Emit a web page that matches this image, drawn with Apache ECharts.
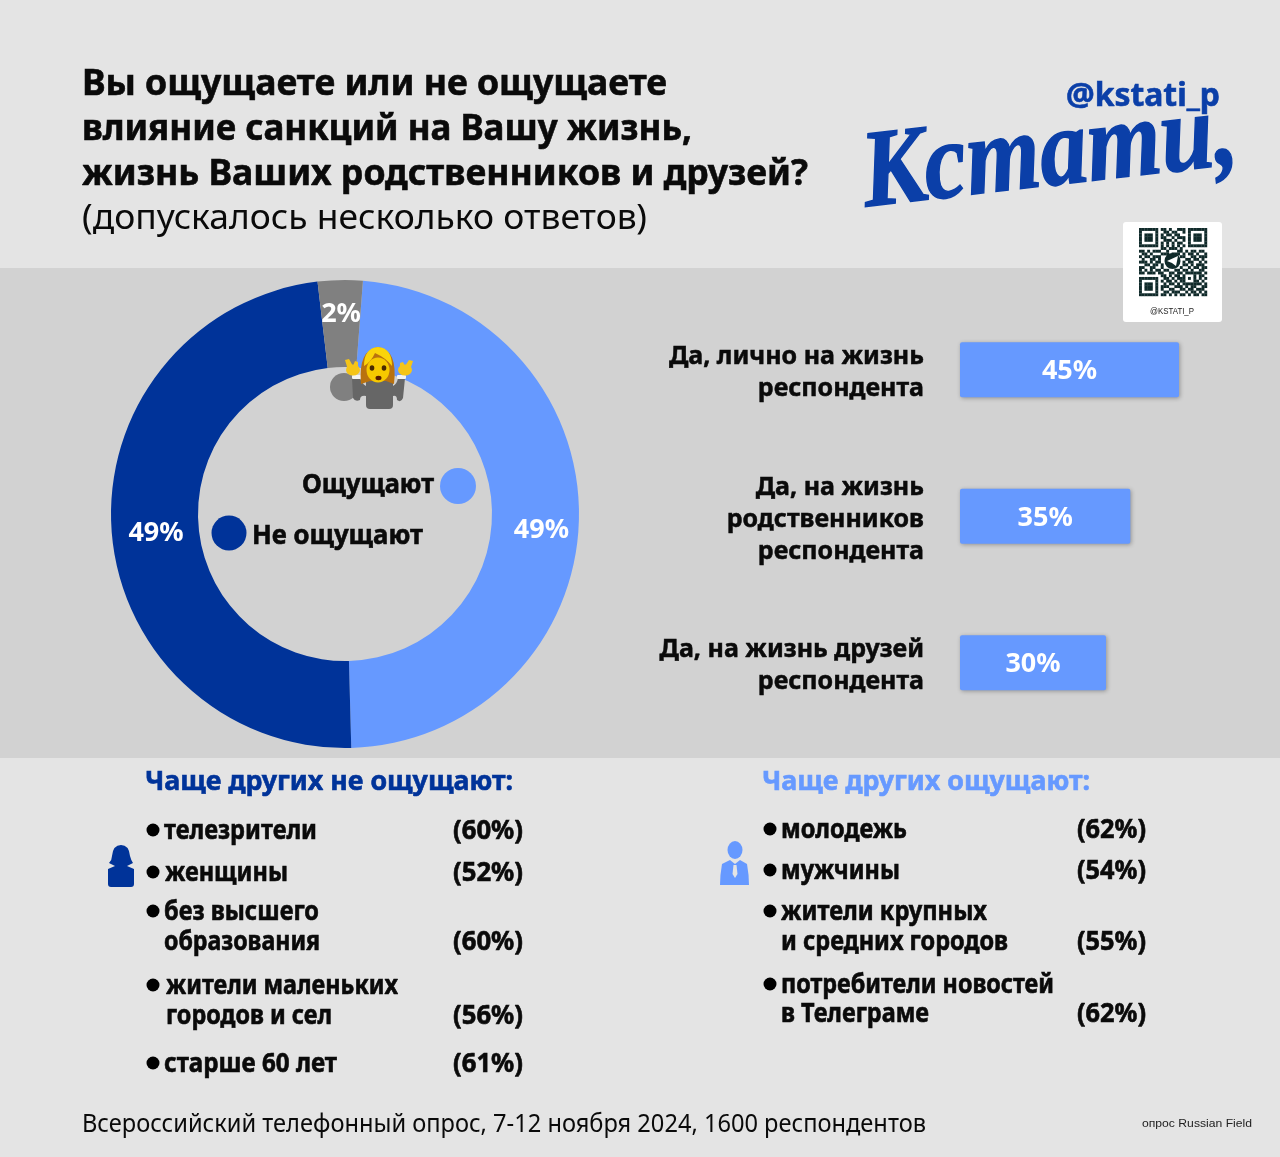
<!DOCTYPE html>
<html>
<head>
<meta charset="utf-8" />
<title>Кстати</title>
<script src="https://cdnjs.cloudflare.com/ajax/libs/echarts/6.0.0/echarts.min.js"></script>
<style>
  html, body { margin: 0; padding: 0; background: #e4e4e4; }
  #chart { width: 1280px; height: 1157px; }
</style>
</head>
<body>
<div id="chart"></div>
<script type="text/javascript">
// donut: printed labels, and slice shares as drawn in the picture
// (the grey slice is drawn wider than its printed 2%)
var donutNames = ['Ощущают', 'Не ощущают', 'Затрудняюсь ответить'];
var donutLabels = ['49%', '49%', '2%'];
var donutShares = [48.4, 48.6, 3.1];

// bars
var barCategories = ['Да, лично на жизнь\nреспондента', 'Да, на жизнь\nродственников\nреспондента', 'Да, на жизнь друзей\nреспондента'];
var barValues = [45, 35, 30];

// bottom lists
var notFeelGroups = ['телезрители', 'женщины', 'без высшего\nобразования', 'жители маленьких\nгородов и сел', 'старше 60 лет'];
var notFeelValues = [60, 52, 60, 56, 61];
var feelGroups = ['молодежь', 'мужчины', 'жители крупных\nи средних городов', 'потребители новостей\nв Телеграме'];
var feelValues = [62, 54, 55, 62];

var titleLines = ['Вы ощущаете или не ощущаете', 'влияние санкций на Вашу жизнь,', 'жизнь Ваших родственников и друзей?'];
var subtitle = '(допускалось несколько ответов)';
var footer = 'Всероссийский телефонный опрос, 7-12 ноября 2024, 1600 респондентов';

var LIGHT = '#6699ff', DARK = '#003399', GREY = '#808080', INK = '#0a0a0a';
var SANS = '"Noto Sans"';

var measureCtx = document.createElement('canvas').getContext('2d');

// text squeezed to the width it has in the picture (x0..x1), y is the middle of the line
function fitText(text, x0, x1, y, size, weight, color, family) {
    var font = weight + ' ' + size + 'px ' + (family || SANS);
    measureCtx.font = font;
    var style = { text: text, font: font, fill: color, textAlign: 'left', textVerticalAlign: 'middle' };
    if (weight === 'bold') {
        // the original face is heavier than Noto Sans Bold
        style.stroke = color;
        style.lineWidth = 0.6;
    }
    return {
        type: 'text', x: x0, y: y + 1.5, scaleX: (x1 - x0) / measureCtx.measureText(text).width, z: 10, silent: true,
        style: style
    };
}
function dot(x, y, r, color) {
    return { type: 'circle', shape: { cx: x, cy: y, r: r }, style: { fill: color }, z: 10, silent: true };
}
function box(x, y, w, h, color, r, z) {
    return { type: 'rect', shape: { x: x, y: y, width: w, height: h, r: r || 0 }, style: { fill: color }, z: z === undefined ? 10 : z, silent: true };
}
// graphic has no plain path type, so every svg path gets its own registered shape
var pathCount = 0;
function path(d, color, z) {
    var name = 'iconPath' + (pathCount++);
    echarts.graphic.registerShape(name, echarts.graphic.extendPath(d));
    return { type: name, shape: {}, style: { fill: color }, z: z || 10, silent: true };
}
function oval(cx, cy, rx, ry, color) {
    var d = 'M' + (cx - rx) + ' ' + cy + ' A' + rx + ' ' + ry + ' 0 1 1 ' + (cx + rx) + ' ' + cy +
        ' A' + rx + ' ' + ry + ' 0 1 1 ' + (cx - rx) + ' ' + cy + ' Z';
    return path(d, color);
}

// one bottom column, text ends and line heights as they are in the picture
function listColumn(groups, values, spots, bulletX, pctX0, pctX1) {
    var out = [];
    groups.forEach(function (g, i) {
        var lines = g.split('\n');
        var s = spots[i];
        out.push(dot(bulletX, s.y[0], 6.5, '#000'));
        lines.forEach(function (line, j) {
            out.push(fitText(line, s.x, s.ends[j], s.y[j], 26, 'bold', INK));
        });
        out.push(fitText('(' + values[i] + '%)', pctX0, pctX1, s.y[lines.length - 1], 26, 'bold', INK));
    });
    return out;
}

var notFeelSpots = [
    { x: 164, ends: [317], y: [830] },
    { x: 165, ends: [288], y: [872] },
    { x: 164, ends: [319, 320], y: [911, 941] },
    { x: 166, ends: [398, 332], y: [985, 1015] },
    { x: 164, ends: [337], y: [1063] }
];
var feelSpots = [
    { x: 781, ends: [907], y: [829] },
    { x: 781, ends: [900], y: [870] },
    { x: 781, ends: [987, 1008], y: [911, 941] },
    { x: 781, ends: [1054, 929], y: [984, 1013] }
];

// hand typed look-alike of the QR block
var qrRows = [
    '1111111011010011101111111',
    '1000001001101100101000001',
    '1011101010110110001011101',
    '1011101011001011101011101',
    '1011101001110100101011101',
    '1000001010101011001000001',
    '1111111010101010101111111',
    '0000000011011101000000000',
    '1101011100100011010110110',
    '0110100011101110101101001',
    '1011011100000001100110111',
    '0100110100000000011011010',
    '1110101100000000101100101',
    '0011011010000000110101110',
    '1100110010000001001011011',
    '1010101101100110110100110',
    '1101110110011011011111101',
    '0000000011010110100010110',
    '1111111001101011101010101',
    '1000001010110101100011010',
    '1011101001011010111111101',
    '1011101011100111010110011',
    '1011101010011001101101110',
    '1000001001101110010110101',
    '1111111011010101101011011'
];
function qrBlock() {
    var out = [box(1123, 222, 99, 100, '#ffffff', 3, 5)];
    var step = 68 / 25;
    qrRows.forEach(function (row, r) {
        row.split('').forEach(function (c, k) {
            if (c === '1') out.push(box(1139 + k * step, 228 + r * step, step + 0.2, step + 0.2, '#102a2a', 0, 6));
        });
    });
    out.push(dot(1172.5, 261, 8, '#102a2a'));
    out.push(path('M1167 261 L1178 256 L1176 266 L1172 263 Z', '#ffffff', 11));
    out.push(fitText('@KSTATI_P', 1150, 1194, 310.5, 9, 'normal', '#222222', '"Liberation Sans"'));
    return out;
}

// shrugging woman over the grey slice
function shrugEmoji() {
    return [
        dot(344, 387, 14, '#808080'),
        path('M352 378 L360 378 Q362 384 366 386 L366 396 Q360 395 360 400 Q355 402 353 398 Z', '#666666'),
        path('M393 386 Q397 384 398 378 L405 378 L403 398 Q401 403 397 400 Q397 395 393 396 Z', '#666666'),
        box(366, 376, 27, 33, '#666666', 4),
        box(352, 375, 9, 4, '#f4f4f4', 1),
        box(397, 375, 9, 4, '#f4f4f4', 1),
        oval(353, 370, 7, 5.5, '#f5c518'),
        path('M345 360 L349 359 L353 366 L355 361 L358 362 L358 372 L348 370 Z', '#f5c518'),
        oval(405, 370, 7, 5.5, '#f5c518'),
        path('M413 361 L409 360 L405 366 L403 362 L400 363 L400 372 L410 370 Z', '#f5c518'),
        path('M361 384 Q358 350 378 347 Q398 350 394 384 L386 381 L370 381 Z', '#b9720f'),
        oval(378, 370, 11.5, 12.5, '#f7c900'),
        path('M364 366 Q364 348 378 347 Q392 348 392 366 Q386 358 375 353 Q371 362 364 366 Z', '#fbd40b'),
        oval(372, 368, 2.3, 2.8, '#4a2a00'),
        oval(384, 368, 2.3, 2.8, '#4a2a00'),
        oval(378.5, 378, 3, 2.2, '#5a1c00')
    ];
}

var graphicElements = [
    box(0, 268, 1280, 490, '#d2d2d2', 0, 0),
    fitText(titleLines[0], 82, 667, 83, 36, 'bold', INK),
    fitText(titleLines[1], 82, 692, 128, 36, 'bold', INK),
    fitText(titleLines[2], 82, 808, 173, 36, 'bold', INK),
    fitText(subtitle, 82, 647, 218, 34, 'normal', INK),
    fitText('@kstati_p', 1066, 1220, 95, 32, 'bold', '#0b3fa8'),
    {
        type: 'text', x: 869, y: 233, rotation: 0.115, scaleX: 0.865, z: 10, silent: true,
        style: { text: 'Кстати,', font: 'italic bold 110px "Liberation Serif"', fill: '#0b3fa8', stroke: '#0b3fa8', lineWidth: 1.5, textAlign: 'left', textVerticalAlign: 'bottom' }
    },
    // centre legend
    fitText('Ощущают', 302, 434, 484, 27, 'bold', INK),
    dot(458, 486, 18, LIGHT),
    fitText('Не ощущают', 252, 423, 535, 27, 'bold', INK),
    dot(229, 533, 17.5, DARK),
    // bottom headings
    fitText('Чаще других не ощущают:', 145, 513, 781, 27, 'bold', DARK),
    fitText('Чаще других ощущают:', 762, 1090, 781, 27, 'bold', LIGHT),
    // woman / man icons
    path('M121 845 Q129 845 130 856 Q131 860 133 863 L127 866 L134 869 L134 884 Q134 887 131 887 L111 887 Q108 887 108 884 L108 869 L115 866 L109 863 Q112 860 112 856 Q113 845 121 845 Z', DARK),
    oval(735, 850, 7.5, 9, LIGHT),
    path('M730 860 L735 864 L740 860 L747 864 Q749 875 749 885 L720 885 Q720 875 722 864 Z', LIGHT),
    path('M733.5 865 L736.5 865 L737.5 874 L735 878 L732.5 874 Z', '#e4e4e4'),
    // footer
    fitText(footer, 82, 926, 1123, 25, 'normal', INK),
    fitText('опрос Russian Field', 1142, 1252, 1122, 11, 'normal', '#222222', '"Liberation Sans"')
];
graphicElements = graphicElements
    .concat(listColumn(notFeelGroups, notFeelValues, notFeelSpots, 153, 453, 523))
    .concat(listColumn(feelGroups, feelValues, feelSpots, 770, 1077, 1146))
    .concat(qrBlock())
    .concat(shrugEmoji());

var chart = echarts.init(document.getElementById('chart'), null, { renderer: 'canvas', width: 1280, height: 1157 });

// label nudges, the picture does not centre them in the ring
var donutLabelNudge = [[3, 11], [4, 5], [0, -6]];

var option = {
    animation: false,
    backgroundColor: '#e4e4e4',
    grid: { left: 960, top: 296.5, width: 292, height: 439.5 },
    xAxis: { type: 'value', min: 0, max: 60, show: false },
    yAxis: {
        type: 'category',
        inverse: true,
        data: barCategories,
        axisLine: { show: false },
        axisTick: { show: false },
        axisLabel: {
            margin: 36,
            align: 'right',
            // a thin empty first line pushes the block down, the picture sits it under the bar centre
            formatter: function (v) {
                return '{gap| }\n' + v.split('\n').map(function (line) { return '{line|' + line + '}'; }).join('\n');
            },
            rich: {
                gap: { fontSize: 1, lineHeight: 7 },
                line: {
                    fontFamily: SANS, fontWeight: 'bold', fontSize: 25, lineHeight: 32, color: INK, align: 'right',
                    textBorderColor: INK, textBorderWidth: 0.5
                }
            }
        }
    },
    graphic: { elements: graphicElements },
    series: [
        {
            type: 'pie',
            center: [345, 514],
            radius: [147, 234],
            startAngle: 85.6,
            clockwise: true,
            silent: true,
            avoidLabelOverlap: false,
            label: {
                show: true,
                position: 'inside',
                formatter: function (p) { return donutLabels[p.dataIndex]; },
                color: '#fff',
                fontFamily: SANS,
                fontWeight: 'bold',
                fontSize: 27
            },
            labelLayout: function (p) {
                return { dx: donutLabelNudge[p.dataIndex][0], dy: donutLabelNudge[p.dataIndex][1] };
            },
            labelLine: { show: false },
            itemStyle: { borderWidth: 0 },
            data: [
                { name: donutNames[0], value: donutShares[0], itemStyle: { color: LIGHT } },
                { name: donutNames[1], value: donutShares[1], itemStyle: { color: DARK } },
                { name: donutNames[2], value: donutShares[2], itemStyle: { color: GREY } }
            ]
        },
        {
            type: 'bar',
            data: barValues,
            barWidth: 55,
            silent: true,
            itemStyle: {
                color: LIGHT,
                borderRadius: 2,
                shadowBlur: 4,
                shadowOffsetX: 1,
                shadowOffsetY: 1,
                shadowColor: 'rgba(0,0,0,0.3)'
            },
            label: {
                show: true,
                position: 'inside',
                offset: [0, 2],
                formatter: '{c}%',
                color: '#fff',
                fontFamily: SANS,
                fontWeight: 'bold',
                fontSize: 27
            }
        }
    ]
};
chart.setOption(option);
</script>
</body>
</html>
